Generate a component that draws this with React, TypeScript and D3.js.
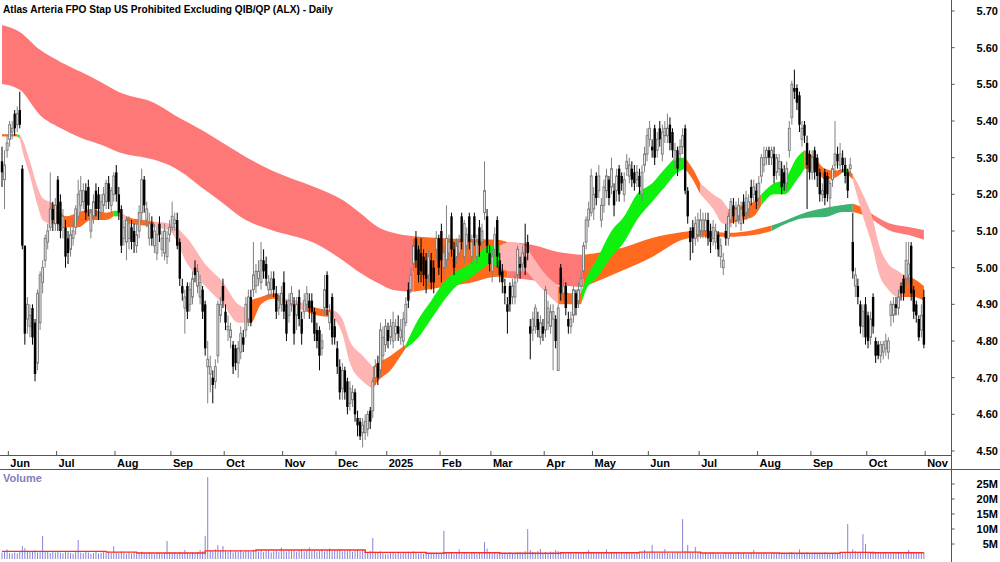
import React from "react";
import * as d3 from "d3";

const title = "Atlas Arteria FPO Stap US Prohibited Excluding QIB/QP (ALX) - Daily";

// daily OHLC, late May 2024 .. end Oct 2025 (one row per month)
const opens = [
  5.29,5.24,5.32,5.35,5.37,5.42,5.39,5.43,5.27,5.06,4.86,4.84,4.89,4.85,4.74,4.85,4.96,5.02,5.07,5.11,5.16,5.12,
  5.24,5.18,5.11,5.11,5.08,5.05,5.08,5.11,5.14,5.17,5.18,5.21,5.22,5.10,5.14,5.21,5.20,5.15,5.17,5.18,5.23,5.17,5.20,
  5.26,5.20,5.16,5.08,5.07,5.08,5.11,5.10,5.06,5.10,5.15,5.24,5.13,5.08,5.12,5.06,5.04,5.12,5.05,5.04,5.03,5.09,
  5.11,5.12,5.13,5.07,4.95,4.89,4.95,4.90,4.92,5.00,4.95,4.92,4.94,4.90,4.73,4.71,4.70,4.69,4.76,4.87,4.95,
  4.88,4.83,4.81,4.79,4.78,4.74,4.77,4.81,4.83,4.86,4.92,4.94,4.95,4.97,4.96,5.02,5.01,4.94,4.94,4.97,4.93,4.89,4.90,
  4.96,4.90,4.87,4.90,4.90,4.87,4.92,4.86,4.88,4.90,4.91,4.91,4.88,4.83,4.83,4.78,4.89,4.98,4.85,4.92,4.84,
  4.78,4.73,4.67,4.72,4.69,4.63,4.64,4.66,4.59,4.58,4.55,4.55,4.56,4.61,4.61,4.70,4.74,4.72,4.76,4.79,
  4.83,4.81,4.80,4.82,4.84,4.81,4.80,4.85,4.94,4.94,5.01,5.08,5.05,5.04,5.03,5.02,4.98,5.02,5.00,5.05,5.08,
  5.10,5.00,5.02,5.04,5.14,5.05,5.03,5.04,5.14,5.03,5.06,5.14,5.03,5.14,5.03,5.11,5.07,5.15,5.14,5.04,
  4.99,5.05,5.13,5.02,4.99,4.95,4.90,4.95,4.92,4.92,4.98,5.01,5.01,5.03,5.07,4.84,4.83,4.84,4.86,4.81,4.84,
  4.83,4.85,4.84,4.86,4.86,4.72,5.00,4.93,4.95,4.86,4.84,4.87,4.93,4.91,4.95,4.99,5.07,5.13,5.15,
  5.16,5.25,5.21,5.13,5.17,5.21,5.24,5.22,5.21,5.21,5.27,5.25,5.20,5.27,5.25,5.27,5.26,5.24,5.25,5.20,5.28,5.31,
  5.35,5.33,5.38,5.32,5.38,5.31,5.36,5.36,5.39,5.37,5.29,5.32,5.31,5.33,5.38,5.21,5.10,5.11,5.08,5.09,
  5.10,5.10,5.10,5.13,5.10,5.08,5.07,5.09,5.03,5.00,5.10,5.08,5.13,5.17,5.13,5.14,5.12,5.18,5.15,5.16,5.22,5.20,5.21,
  5.19,5.25,5.28,5.30,5.32,5.30,5.31,5.26,5.27,5.27,5.26,5.23,5.32,5.41,5.49,5.49,5.47,5.35,5.39,5.34,5.31,
  5.26,5.32,5.30,5.26,5.20,5.26,5.25,5.19,5.24,5.28,5.31,5.28,5.30,5.28,5.26,5.27,5.07,4.95,4.95,4.90,4.84,4.90,
  4.87,4.81,4.92,4.80,4.79,4.76,4.77,4.78,4.77,4.87,4.87,4.90,4.89,4.95,4.97,4.97,4.98,5.06,4.94,4.90,4.86,4.83,4.92,
];
const highs = [
  5.33,5.32,5.36,5.40,5.40,5.43,5.44,5.48,5.28,5.06,4.92,4.90,4.90,4.86,4.94,4.99,5.02,5.09,5.12,5.26,5.18,5.19,
  5.25,5.20,5.16,5.13,5.10,5.11,5.13,5.17,5.24,5.25,5.23,5.23,5.24,5.16,5.20,5.23,5.22,5.20,5.22,5.24,5.25,5.22,5.26,
  5.28,5.22,5.17,5.13,5.14,5.14,5.13,5.12,5.12,5.17,5.27,5.25,5.18,5.15,5.14,5.12,5.11,5.14,5.10,5.12,5.10,5.13,
  5.18,5.15,5.15,5.08,4.97,4.94,4.96,4.96,4.99,5.02,5.01,4.98,4.95,4.91,4.80,4.76,4.72,4.75,4.91,4.92,4.97,
  4.90,4.87,4.85,4.80,4.79,4.80,4.84,4.83,4.92,4.94,4.94,5.07,5.01,5.02,5.07,5.05,5.03,4.98,4.99,4.99,4.95,4.93,4.95,
  4.99,4.91,4.93,4.95,4.92,4.92,4.94,4.88,4.93,4.95,4.93,4.93,4.89,4.85,4.84,4.82,4.98,4.99,4.90,4.93,4.86,
  4.80,4.75,4.74,4.73,4.70,4.69,4.68,4.67,4.61,4.59,4.59,4.60,4.61,4.62,4.70,4.75,4.76,4.85,4.84,4.86,
  4.85,4.86,4.88,4.86,4.87,4.86,4.88,4.92,4.96,5.00,5.08,5.10,5.06,5.08,5.05,5.04,5.05,5.04,5.02,5.10,5.09,
  5.12,5.06,5.17,5.09,5.15,5.07,5.08,5.09,5.15,5.13,5.11,5.15,5.09,5.15,5.09,5.13,5.12,5.29,5.16,5.06,
  5.05,5.11,5.14,5.04,5.01,4.97,4.92,4.96,4.97,4.98,5.06,5.03,5.06,5.12,5.09,4.86,4.88,4.90,4.88,4.87,4.86,
  4.95,4.91,4.90,4.90,4.87,4.90,5.01,4.97,4.96,4.88,4.88,4.95,4.94,4.96,4.99,5.07,5.14,5.18,5.27,
  5.22,5.26,5.28,5.19,5.24,5.27,5.25,5.30,5.23,5.27,5.28,5.26,5.26,5.31,5.30,5.29,5.28,5.28,5.27,5.28,5.33,5.38,
  5.40,5.35,5.39,5.37,5.40,5.39,5.40,5.42,5.41,5.38,5.34,5.33,5.35,5.38,5.39,5.22,5.11,5.13,5.14,5.15,
  5.16,5.15,5.15,5.15,5.12,5.13,5.12,5.10,5.08,5.04,5.12,5.15,5.19,5.19,5.18,5.19,5.18,5.20,5.21,5.20,5.24,5.24,5.23,
  5.25,5.31,5.33,5.33,5.33,5.33,5.33,5.31,5.31,5.29,5.28,5.29,5.40,5.51,5.54,5.50,5.48,5.40,5.40,5.36,5.32,
  5.32,5.33,5.31,5.27,5.23,5.27,5.26,5.24,5.28,5.40,5.33,5.34,5.32,5.30,5.27,5.30,5.15,5.00,4.97,4.91,4.90,4.92,
  4.88,4.88,4.93,4.81,4.80,4.80,4.80,4.82,4.81,4.91,4.92,4.92,4.94,4.96,4.98,5.07,5.07,5.07,4.95,4.91,4.87,4.90,4.94,
];
const lows = [
  5.22,5.16,5.30,5.33,5.35,5.36,5.37,5.38,5.05,4.79,4.82,4.81,4.79,4.69,4.72,4.83,4.93,5.00,5.05,5.10,5.10,5.10,
  5.10,5.08,5.08,5.00,5.01,5.03,5.06,5.09,5.13,5.15,5.16,5.13,5.14,5.08,5.12,5.14,5.13,5.13,5.15,5.16,5.16,5.15,5.18,
  5.18,5.13,5.04,5.06,5.02,5.05,5.05,5.04,5.04,5.08,5.13,5.15,5.11,5.06,5.06,5.04,5.02,5.07,5.03,5.02,5.01,5.07,
  5.10,5.10,5.05,4.95,4.91,4.82,4.86,4.88,4.90,4.96,4.93,4.90,4.86,4.76,4.63,4.66,4.63,4.67,4.74,4.85,4.89,
  4.83,4.80,4.78,4.71,4.72,4.70,4.75,4.77,4.81,4.84,4.84,4.92,4.93,4.95,4.94,4.97,4.95,4.92,4.92,4.92,4.86,4.87,4.88,
  4.86,4.80,4.85,4.88,4.79,4.83,4.84,4.79,4.86,4.88,4.86,4.85,4.80,4.78,4.72,4.76,4.87,4.87,4.83,4.79,4.79,
  4.71,4.64,4.64,4.64,4.60,4.61,4.62,4.58,4.54,4.53,4.51,4.53,4.54,4.56,4.59,4.68,4.68,4.70,4.74,4.77,
  4.78,4.79,4.78,4.80,4.80,4.79,4.78,4.84,4.89,4.93,4.99,5.00,4.96,4.96,4.95,4.93,4.96,4.94,4.93,5.02,4.98,
  4.96,4.98,5.00,5.02,5.03,4.98,5.01,5.02,5.05,5.01,5.04,5.05,5.01,5.06,5.01,5.03,5.05,5.13,5.04,4.99,
  4.96,5.03,5.00,4.96,4.93,4.90,4.82,4.88,4.90,4.90,4.96,4.97,4.99,4.98,5.02,4.75,4.80,4.82,4.81,4.79,4.80,
  4.81,4.83,4.82,4.72,4.78,4.72,4.91,4.91,4.87,4.82,4.82,4.85,4.87,4.89,4.93,4.97,5.05,5.11,5.14,
  5.13,5.17,5.19,5.11,5.15,5.19,5.17,5.20,5.14,5.18,5.18,5.21,5.18,5.25,5.23,5.22,5.21,5.22,5.20,5.18,5.26,5.29,
  5.33,5.30,5.28,5.30,5.33,5.29,5.34,5.34,5.32,5.30,5.27,5.25,5.29,5.31,5.20,5.12,5.02,5.04,5.06,5.07,
  5.08,5.08,5.08,5.06,5.04,5.06,5.05,5.03,5.00,4.98,5.06,5.06,5.11,5.12,5.11,5.12,5.10,5.12,5.13,5.14,5.17,5.18,5.16,
  5.17,5.23,5.26,5.28,5.28,5.28,5.23,5.24,5.25,5.20,5.21,5.21,5.30,5.39,5.46,5.43,5.37,5.33,5.34,5.16,5.24,
  5.24,5.24,5.22,5.18,5.18,5.17,5.18,5.16,5.22,5.26,5.27,5.26,5.26,5.23,5.19,5.25,4.97,4.92,4.90,4.82,4.81,4.79,
  4.78,4.79,4.82,4.74,4.75,4.74,4.75,4.76,4.75,4.84,4.85,4.87,4.87,4.91,4.91,4.95,4.96,4.91,4.86,4.85,4.80,4.81,4.78,
];
const closes = [
  5.26,5.28,5.34,5.39,5.38,5.38,5.42,5.39,5.06,4.82,4.90,4.87,4.81,4.71,4.93,4.98,5.00,5.08,5.10,5.16,5.13,5.17,
  5.12,5.10,5.14,5.03,5.04,5.09,5.10,5.16,5.20,5.21,5.21,5.15,5.17,5.15,5.18,5.16,5.16,5.18,5.20,5.23,5.18,5.21,5.25,
  5.20,5.15,5.06,5.11,5.13,5.12,5.07,5.07,5.09,5.15,5.24,5.17,5.16,5.12,5.08,5.10,5.09,5.09,5.08,5.10,5.08,5.11,
  5.14,5.13,5.06,4.97,4.93,4.92,4.88,4.94,4.97,4.98,4.99,4.96,4.88,4.78,4.75,4.73,4.68,4.73,4.90,4.90,4.91,
  4.85,4.84,4.83,4.73,4.74,4.78,4.82,4.79,4.90,4.92,4.85,4.98,4.99,4.99,5.02,4.99,4.97,4.96,4.97,4.94,4.88,4.91,4.93,
  4.88,4.82,4.91,4.93,4.82,4.90,4.86,4.82,4.91,4.93,4.89,4.88,4.82,4.80,4.76,4.80,4.94,4.89,4.88,4.81,4.81,
  4.73,4.66,4.72,4.66,4.62,4.67,4.66,4.60,4.57,4.54,4.57,4.58,4.60,4.58,4.69,4.73,4.70,4.83,4.81,4.84,
  4.80,4.84,4.85,4.84,4.82,4.83,4.86,4.90,4.91,4.98,5.06,5.02,4.98,4.99,4.98,4.97,5.03,4.96,4.96,5.08,5.00,
  5.02,5.04,5.08,5.07,5.05,5.00,5.06,5.07,5.07,5.12,5.09,5.07,5.07,5.08,5.07,5.06,5.10,5.21,5.06,5.01,
  5.03,5.09,5.03,4.98,4.96,4.93,4.88,4.90,4.95,4.96,5.05,5.00,5.04,5.00,5.04,4.82,4.86,4.89,4.83,4.85,4.82,
  4.94,4.89,4.88,4.88,4.80,4.89,4.93,4.95,4.89,4.84,4.86,4.94,4.89,4.94,4.97,5.06,5.13,5.16,5.25,
  5.20,5.19,5.25,5.17,5.22,5.25,5.19,5.27,5.17,5.25,5.20,5.23,5.24,5.29,5.28,5.24,5.23,5.26,5.22,5.26,5.31,5.36,
  5.38,5.32,5.30,5.35,5.35,5.37,5.38,5.38,5.34,5.32,5.32,5.27,5.33,5.36,5.21,5.14,5.07,5.08,5.12,5.13,
  5.13,5.13,5.13,5.08,5.07,5.11,5.10,5.05,5.06,5.02,5.08,5.14,5.18,5.14,5.16,5.17,5.16,5.14,5.19,5.18,5.19,5.22,5.18,
  5.23,5.30,5.30,5.32,5.30,5.32,5.25,5.30,5.29,5.22,5.23,5.27,5.38,5.50,5.48,5.45,5.39,5.38,5.36,5.28,5.26,
  5.30,5.26,5.25,5.20,5.21,5.19,5.20,5.23,5.27,5.31,5.29,5.31,5.28,5.25,5.21,5.28,4.99,4.98,4.92,4.84,4.88,4.81,
  4.80,4.86,4.84,4.76,4.76,4.79,4.79,4.80,4.80,4.90,4.90,4.89,4.92,4.93,4.93,5.02,5.01,4.93,4.88,4.87,4.81,4.87,4.79,
];
// volume, millions
const volumes = [
  2.1,2.4,3.2,2.0,1.8,2.2,1.9,2.5,4.3,3.6,2.8,2.4,2.6,2.9,2.2,2.3,7.7,2.6,2.4,2.0,2.5,2.2,
  2.6,2.1,1.9,2.4,2.2,2.0,1.8,2.3,6.3,2.1,1.9,2.5,2.2,1.7,2.0,2.4,1.8,2.1,2.3,1.9,2.6,2.0,4.3,
  2.2,1.9,2.5,2.0,1.7,2.1,1.8,2.3,1.6,2.0,2.4,1.9,1.7,2.2,1.8,1.6,2.0,1.9,1.7,2.1,6.0,2.3,
  1.9,2.2,1.8,2.4,2.0,3.0,2.1,1.8,2.3,1.9,2.2,3.0,2.6,7.7,27.3,3.0,2.7,3.2,4.6,2.9,4.3,
  2.6,2.4,2.9,2.2,2.7,2.5,3.0,2.3,2.8,2.6,2.4,3.1,2.7,2.5,2.9,2.3,2.6,2.8,2.2,2.5,2.7,2.4,3.8,
  2.8,2.5,3.0,2.6,2.9,2.4,2.7,3.1,2.5,2.8,3.8,2.6,2.9,2.4,2.7,3.0,2.5,2.8,3.5,2.6,2.9,
  2.7,3.2,2.5,2.8,2.6,3.0,2.4,2.7,2.9,2.5,2.8,2.6,2.3,2.7,7.0,2.4,2.2,2.6,1.9,1.5,
  1.6,2.0,2.2,1.8,2.1,1.9,2.3,2.0,2.4,2.2,2.6,2.1,1.8,2.0,1.7,2.2,1.9,2.0,1.8,2.1,1.9,
  1.7,9.4,2.2,1.8,2.0,1.6,1.9,3.2,1.7,2.0,1.8,1.6,2.1,1.9,1.7,2.0,1.8,5.7,3.5,2.1,
  1.8,2.0,1.7,2.2,1.9,2.1,1.8,2.3,2.0,1.9,2.2,2.4,2.1,2.6,10.0,3.0,2.4,2.2,2.6,3.3,2.0,
  2.3,2.0,2.5,2.2,3.0,2.6,2.1,2.3,1.9,2.2,2.0,1.8,2.1,1.9,2.3,2.0,2.4,3.0,2.2,
  2.1,1.9,2.3,2.0,2.2,3.2,1.8,2.1,1.9,2.0,1.7,2.2,1.8,2.0,1.9,2.1,1.7,2.0,1.8,2.2,3.0,2.1,
  2.0,4.7,2.2,1.9,2.1,2.3,3.3,2.0,1.8,2.2,2.0,2.4,2.1,13.3,2.6,4.7,2.5,2.3,4.0,2.2,
  2.0,1.8,2.1,1.7,1.9,2.2,1.8,2.0,1.6,1.9,2.1,1.8,2.0,1.7,1.9,2.2,1.8,2.0,1.7,1.9,2.1,3.0,1.8,
  1.9,1.7,2.0,1.8,1.6,1.9,2.1,1.7,1.8,2.0,1.6,1.9,2.2,2.4,2.0,1.8,3.2,2.1,1.9,2.2,1.8,
  1.9,2.1,1.8,2.0,1.7,2.2,1.9,2.0,1.8,2.1,1.9,2.0,2.2,2.4,11.7,2.3,3.2,2.6,2.4,2.5,8.3,5.0,
  2.4,2.1,2.6,2.2,1.9,2.3,2.0,2.1,1.8,2.2,1.9,2.4,2.0,2.1,1.8,2.2,3.0,2.0,2.3,1.9,2.1,2.0,2.2,
];
// volume average (red line), stepped
const volAvgStart = [0, 41, 53, 80, 100, 143, 167, 174, 196, 220, 251, 275, 306, 330, 342, 363];
const volAvgValue = [2.55, 2.3, 2.0, 2.7, 3.0, 2.2, 1.9, 2.1, 1.9, 2.1, 2.3, 2.0, 1.9, 2.2, 2.1, 2.1];

// short-term ribbon: bar index, top, bottom, colour of the stretch that starts there
const shortIdx = [0,6,7,8,11,14,16,19,21,25,30,35,41,44,46,49,51,56,60,66,73,80,87,93,96,98,102,107,111,116,120,124,130,134,137,142,146,148,153,157,159,164,169,174,179,184,188,192,196,200,206,209,213,219,224,228,230,234,240,245,250,256,261,266,269,272,275,280,284,286,292,296,299,304,308,313,316,320,324,328,331,333,335,339,343,345,349,353,355,359,363];
const shortTop = [5.364,5.364,5.362,5.35,5.29,5.22,5.19,5.18,5.17,5.14,5.15,5.16,5.15,5.155,5.155,5.14,5.135,5.13,5.125,5.12,5.08,5.01,4.96,4.90,4.89,4.91,4.92,4.93,4.915,4.91,4.90,4.89,4.885,4.86,4.80,4.76,4.73,4.74,4.76,4.78,4.79,4.86,4.91,4.96,4.99,5.01,5.04,5.06,5.06,5.07,5.06,5.03,4.99,4.95,4.93,4.93,4.97,5.02,5.10,5.14,5.20,5.23,5.27,5.30,5.30,5.27,5.23,5.20,5.18,5.16,5.17,5.18,5.20,5.23,5.24,5.30,5.32,5.30,5.27,5.265,5.27,5.27,5.255,5.20,5.13,5.07,5.01,4.99,4.98,4.97,4.95];
const shortBot = [5.358,5.358,5.352,5.32,5.25,5.17,5.13,5.12,5.12,5.11,5.11,5.13,5.13,5.14,5.14,5.125,5.12,5.115,5.11,5.10,5.01,4.95,4.90,4.85,4.85,4.85,4.90,4.915,4.90,4.89,4.88,4.87,4.865,4.82,4.74,4.69,4.67,4.69,4.72,4.76,4.78,4.81,4.86,4.91,4.95,4.97,4.99,5.01,5.00,4.99,4.99,4.97,4.94,4.90,4.90,4.90,4.94,4.97,5.03,5.07,5.13,5.18,5.22,5.26,5.27,5.24,5.20,5.16,5.12,5.12,5.13,5.14,5.17,5.20,5.20,5.24,5.27,5.27,5.24,5.245,5.26,5.255,5.24,5.14,5.05,4.99,4.94,4.92,4.92,4.92,4.91];
const shortCol = "OGPPPPPOOOOOOGPOOOPPPPPPOOOOPPOOPPPPOOOOGGGGGGGGPPPPPOOGGGGGGGGGOOPPPOOOGGGGOOOOGOPPPPPPOOO";

// long-term ribbon
const longIdx = [0,7,15,23,31,39,46,60,68,80,87,96,106,123,134,141,148,154,162,172,184,195,199,209,219,229,245,256,268,275,286,296,303,306,317,324,331,335,339,343,349,357,363];
const longTop = [5.662,5.643,5.594,5.561,5.534,5.506,5.479,5.449,5.416,5.370,5.340,5.302,5.266,5.220,5.185,5.149,5.111,5.095,5.086,5.081,5.078,5.076,5.070,5.062,5.043,5.035,5.056,5.081,5.097,5.103,5.095,5.103,5.115,5.122,5.152,5.163,5.171,5.174,5.163,5.144,5.122,5.111,5.103];
const longBot = [5.501,5.485,5.416,5.381,5.354,5.335,5.315,5.294,5.272,5.212,5.176,5.130,5.103,5.067,5.021,4.986,4.958,4.939,4.934,4.945,4.958,4.975,4.972,4.966,4.953,4.947,4.994,5.029,5.076,5.084,5.084,5.089,5.100,5.111,5.136,5.138,5.152,5.152,5.144,5.130,5.103,5.089,5.076];
const longCol = "SSSSSSSSSSSSSSSSSSOOOOSSSOOOOOOOTTTTTOOSSSS";

const colours: Record<string, string> = {
  S: "#ff7878",
  P: "#ffb4b4",
  O: "#ff6a1f",
  G: "#0ef00e",
  T: "#3cb371",
};

const monthLabels = ["Jun","Jul","Aug","Sep","Oct","Nov","Dec","2025","Feb","Mar","Apr","May","Jun","Jul","Aug","Sep","Oct","Nov"];
const monthStart = [3,22,45,67,88,111,132,152,173,193,214,233,255,275,298,319,341,364];
const priceTicks = [4.5,4.6,4.7,4.8,4.9,5.0,5.1,5.2,5.3,5.4,5.5,5.6,5.7];
const volTicks = [5,10,15,20,25];

const font = "'Liberation Sans', Arial, Helvetica, sans-serif";
const axisX = 951.5;

function ribbonRuns(idx: number[], top: number[], bot: number[], col: string) {
  const runs: { c: string; pts: { i: number; t: number; b: number }[] }[] = [];
  let start = 0;
  for (let k = 1; k < idx.length; k++) {
    if (col[k] !== col[start] || k === idx.length - 1) {
      const pts = [];
      for (let j = start; j <= k; j++) pts.push({ i: idx[j], t: top[j], b: bot[j] });
      runs.push({ c: col[start], pts });
      start = k;
    }
  }
  return runs;
}

export default function App() {
  const n = Math.min(opens.length, highs.length, lows.length, closes.length);
  const x = d3.scaleLinear().domain([0, 363]).range([2, 923.9]);
  const y = d3.scaleLinear().domain([4.5, 5.7]).range([451, 11]);
  const yv = d3.scaleLinear().domain([0, 25]).range([559, 484]);

  const area = d3
    .area<{ i: number; t: number; b: number }>()
    .x((p) => x(p.i))
    .y0((p) => y(p.b))
    .y1((p) => y(p.t))
    .curve(d3.curveMonotoneX);

  const longRuns = ribbonRuns(longIdx, longTop, longBot, longCol);
  const shortRuns = ribbonRuns(shortIdx, shortTop, shortBot, shortCol);

  const avgLine = d3
    .line<number>()
    .x((_, k) => x(volAvgStart[k]))
    .y((v) => yv(v))
    .curve(d3.curveStepAfter)(volAvgValue);

  const candles = [];
  for (let i = 0; i < n; i++) {
    const o = opens[i], c = closes[i];
    const up = c >= o;
    const cx = x(i);
    const top = y(Math.max(o, c));
    const h = Math.max(1, y(Math.min(o, c)) - top);
    candles.push(
      <g key={i}>
        <line x1={cx} x2={cx} y1={y(highs[i])} y2={y(lows[i])} stroke={up ? "#808080" : "#000"} strokeWidth={1} />
        {up ? (
          <rect x={cx - 0.9} y={top} width={1.8} height={h} fill="#fff" stroke="#7a7a7a" strokeWidth={1} />
        ) : (
          <rect x={cx - 1.2} y={top} width={2.4} height={h} fill="#000" />
        )}
      </g>
    );
  }

  return (
    <div style={{ position: "absolute", left: 0, top: 0 }}>
      <svg width={1000} height={562} style={{ display: "block", background: "#fff" }} fontFamily={font}>
        {longRuns.map((r, k) => (
          <path key={"l" + k} d={area(r.pts) || ""} fill={colours[r.c]} />
        ))}
        {shortRuns.map((r, k) => (
          <path key={"s" + k} d={area(r.pts) || ""} fill={colours[r.c]} />
        ))}
        {candles}

        <text x={3} y={13} fontSize={11.5} fontWeight="bold" textLength={330} lengthAdjust="spacingAndGlyphs">
          {title}
        </text>

        {/* price axis */}
        <line x1={axisX} x2={axisX} y1={0} y2={562} stroke="#555" />
        {priceTicks.map((p) => (
          <g key={p}>
            <line x1={axisX} x2={axisX + 3} y1={y(p)} y2={y(p)} stroke="#555" />
            <text x={998} y={y(p)} dy="0.35em" textAnchor="end" fontSize={11} fontWeight="bold">
              {p.toFixed(2)}
            </text>
          </g>
        ))}

        {/* time axis */}
        <line x1={0} x2={axisX} y1={455.5} y2={455.5} stroke="#555" />
        <line x1={0} x2={1000} y1={469.5} y2={469.5} stroke="#555" />
        {monthStart.map((m, k) => {
          const tx = x(m - 0.5);
          return (
            <g key={k}>
              <line x1={tx} x2={tx} y1={451} y2={455} stroke="#555" />
              <text x={tx + 2} y={467} fontSize={11} fontWeight="bold">
                {monthLabels[k]}
              </text>
            </g>
          );
        })}

        {/* volume */}
        <text x={3} y={482} fontSize={11} fontWeight="bold" fill="#8080c0">
          Volume
        </text>
        {volumes.slice(0, n).map((v, i) => (
          <line key={i} x1={x(i)} x2={x(i)} y1={yv(0)} y2={yv(v)} stroke="#8484d8" strokeWidth={1} />
        ))}
        <path d={avgLine || ""} fill="none" stroke="#ff2a2a" strokeWidth={1.4} />
        {volTicks.map((v) => (
          <g key={v}>
            <line x1={axisX} x2={axisX + 3} y1={yv(v)} y2={yv(v)} stroke="#555" />
            <text x={998} y={yv(v)} dy="0.35em" textAnchor="end" fontSize={11} fontWeight="bold">
              {v}M
            </text>
          </g>
        ))}
      </svg>
    </div>
  );
}
